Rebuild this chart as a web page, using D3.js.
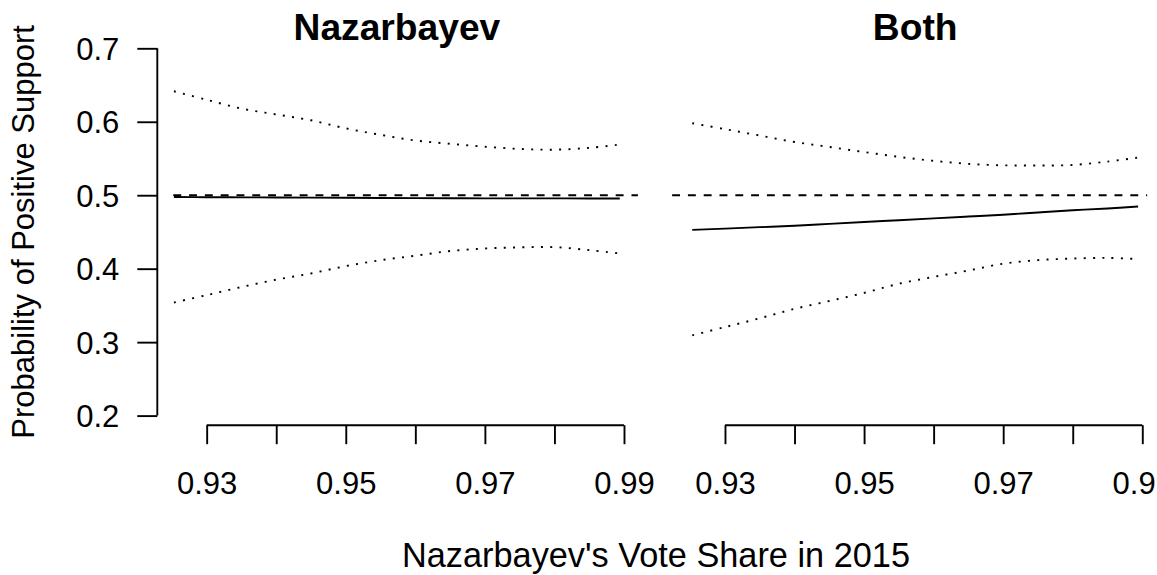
<!DOCTYPE html>
<html>
<head>
<meta charset="utf-8">
<script src="https://cdn.jsdelivr.net/npm/d3@7"></script>
<style>
  html, body { margin: 0; padding: 0; background: #fff; }
  svg { display: block; }
  text { font-family: "Liberation Sans", Arial, sans-serif; fill: #000; }
</style>
</head>
<body>
<svg id="chart" width="1157" height="575"></svg>
<script>
// ---------- data ----------
const xs = [0.9253, 0.93, 0.935, 0.94, 0.945, 0.95, 0.955, 0.96, 0.965, 0.97, 0.975, 0.98, 0.985, 0.9894];

const panelTitles = ["Nazarbayev", "Both"];

const nazEst   = [0.4975, 0.4973, 0.4971, 0.4969, 0.4967, 0.4965, 0.4963, 0.4961, 0.4959, 0.4957, 0.4957, 0.4957, 0.4956, 0.4955];
const nazUpper = [0.6415, 0.6300, 0.6180, 0.6100, 0.6020, 0.5910, 0.5822, 0.5745, 0.5700, 0.5660, 0.5630, 0.5620, 0.5645, 0.5690];
const nazLower = [0.3540, 0.3640, 0.3750, 0.3850, 0.3935, 0.4035, 0.4115, 0.4176, 0.4240, 0.4275, 0.4290, 0.4293, 0.4252, 0.4207];

const bothEst   = [0.4528, 0.4545, 0.4565, 0.4585, 0.4610, 0.4635, 0.4660, 0.4685, 0.4710, 0.4735, 0.4765, 0.4795, 0.4820, 0.4847];
const bothUpper = [0.5980, 0.5900, 0.5812, 0.5725, 0.5657, 0.5588, 0.5522, 0.5468, 0.5427, 0.5407, 0.5404, 0.5412, 0.5458, 0.5513];
const bothLower = [0.3093, 0.3205, 0.3325, 0.3453, 0.3560, 0.3670, 0.3795, 0.3888, 0.3975, 0.4068, 0.4116, 0.4138, 0.4147, 0.4130];

const refValue = 0.5;
const refExtent = [[0.9252, 0.9920], [0.9224, 0.9907]];

const xTicks = [0.93, 0.94, 0.95, 0.96, 0.97, 0.98, 0.99];
const xTickLabels = ["0.93", "", "0.95", "", "0.97", "", "0.99"];
const yTicks = [0.2, 0.3, 0.4, 0.5, 0.6, 0.7];
const yTickLabels = ["0.2", "0.3", "0.4", "0.5", "0.6", "0.7"];

const xLabel = "Nazarbayev's Vote Share in 2015";
const yLabel = "Probability of Positive Support";

// ---------- layout ----------
const svg = d3.select("#chart");
const xDomain = [0.9227, 0.9920];
const panelRanges = [[155.9, 637.9], [674.2, 1156.2]];
const yScale = d3.scaleLinear().domain([0.2, 0.7]).range([415.6, 48.3]);
const plotBottom = 425.2;
const lw = 1.9;
const fs = 31;

const panels = [
  { title: panelTitles[0], est: nazEst, up: nazUpper, lo: nazLower, ref: refExtent[0], yAxis: true },
  { title: panelTitles[1], est: bothEst, up: bothUpper, lo: bothLower, ref: refExtent[1], yAxis: false }
];

panels.forEach((p, i) => {
  const x = d3.scaleLinear().domain(xDomain).range(panelRanges[i]);
  const g = svg.append("g");

  const line = d3.line()
    .x((d, k) => x(xs[k]))
    .y(d => yScale(d))
    .curve(d3.curveCatmullRom);

  // reference dashed line
  g.append("line")
    .attr("x1", x(p.ref[0])).attr("x2", x(p.ref[1]))
    .attr("y1", yScale(refValue)).attr("y2", yScale(refValue))
    .attr("stroke", "#000").attr("stroke-width", lw)
    .attr("stroke-dasharray", "7.9,7.9");

  // confidence bands (dotted)
  [p.up, p.lo].forEach(s => {
    g.append("path").datum(s)
      .attr("d", line)
      .attr("fill", "none").attr("stroke", "#000").attr("stroke-width", lw)
      .attr("stroke-dasharray", "2,7.3");
  });

  // estimate (solid)
  g.append("path").datum(p.est)
    .attr("d", line)
    .attr("fill", "none").attr("stroke", "#000").attr("stroke-width", lw);

  // x axis
  const xa = d3.axisBottom(x)
    .tickValues(xTicks)
    .tickFormat((d, k) => xTickLabels[k])
    .tickSize(19).tickSizeOuter(0);
  const xg = g.append("g").attr("transform", `translate(0,${plotBottom})`).call(xa);
  xg.select(".domain").remove();
  xg.selectAll(".tick line").attr("stroke", "#000").attr("stroke-width", lw);
  xg.selectAll(".tick text")
    .attr("y", 68.5).attr("dy", 0)
    .style("font-size", fs + "px")
    .style("font-family", '"Liberation Sans", Arial, sans-serif')
    .attr("fill", "#000");
  xg.append("line")
    .attr("x1", x(xTicks[0])).attr("x2", x(xTicks[xTicks.length - 1]))
    .attr("y1", 0).attr("y2", 0)
    .attr("stroke", "#000").attr("stroke-width", lw);

  // y axis
  if (p.yAxis) {
    const ax = panelRanges[i][0] + 1.4;
    const ya = d3.axisLeft(yScale)
      .tickValues(yTicks)
      .tickFormat((d, k) => yTickLabels[k])
      .tickSize(20).tickSizeOuter(0);
    const yg = g.append("g").attr("transform", `translate(${ax},0)`).call(ya);
    yg.select(".domain").remove();
    yg.selectAll(".tick line").attr("stroke", "#000").attr("stroke-width", lw);
    yg.selectAll(".tick text")
      .attr("x", -38).attr("dy", "0.36em")
      .style("font-size", fs + "px")
      .style("font-family", '"Liberation Sans", Arial, sans-serif')
      .attr("fill", "#000");
    yg.append("line")
      .attr("x1", 0).attr("x2", 0)
      .attr("y1", yScale(yTicks[0])).attr("y2", yScale(yTicks[yTicks.length - 1]))
      .attr("stroke", "#000").attr("stroke-width", lw);
  }

  // panel title
  g.append("text")
    .attr("x", (panelRanges[i][0] + panelRanges[i][1]) / 2)
    .attr("y", 39.5)
    .attr("text-anchor", "middle")
    .style("font-size", (fs * 1.2) + "px")
    .style("font-weight", "bold")
    .text(p.title);
});

// axis titles
svg.append("text")
  .attr("x", 656).attr("y", 567)
  .attr("text-anchor", "middle")
  .style("font-size", "34.3px")
  .text(xLabel);

svg.append("text")
  .attr("transform", `translate(34,${(plotBottom + 38.5) / 2}) rotate(-90)`)
  .attr("text-anchor", "middle")
  .style("font-size", fs + "px")
  .text(yLabel);
</script>
</body>
</html>
